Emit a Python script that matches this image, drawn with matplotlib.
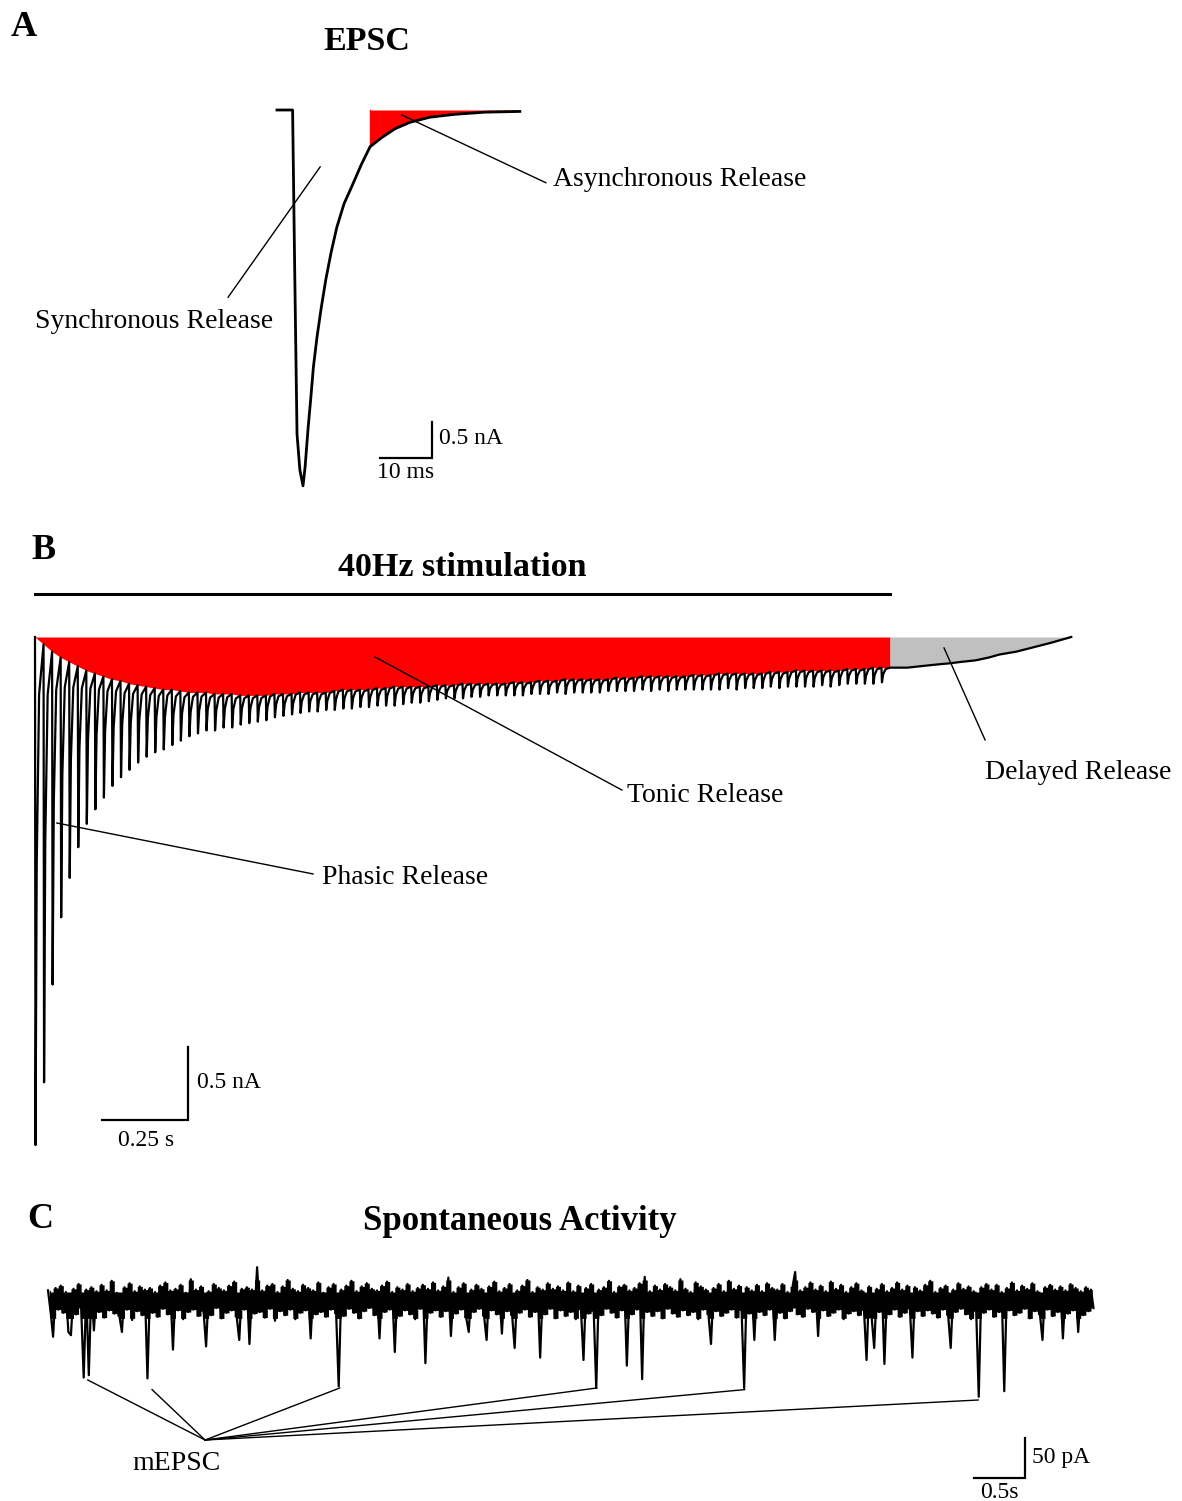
import matplotlib
matplotlib.use('Agg')
import matplotlib.pyplot as plt
import numpy as np

plt.rcParams['font.family'] = ['Liberation Serif', 'DejaVu Serif']

W, H = 1182, 1501

# ---------------- A: single EPSC (time ms, current nA)
epsc_t = [0, 3.0, 3.4, 3.85, 4.4, 5.0, 5.4, 6.0, 6.5, 7.0, 7.7, 8.5, 9.4, 10.4,
          11.5, 12.9, 14.4, 16.2, 17.9, 20.2, 22.7, 25.6, 29.4, 34.2, 40.0, 46.7]
epsc_nA = [0, 0, -2.2, -4.5, -5.0, -5.22, -4.96, -4.4, -4.0, -3.57, -3.15, -2.75,
           -2.35, -1.98, -1.63, -1.30, -1.06, -0.76, -0.51, -0.38, -0.26, -0.17,
           -0.10, -0.06, -0.03, -0.02]
async_from_ms = 17.9

# ---------------- B: 40 Hz train (nA), one peak per stimulus
stim_hz = 40
peak_nA = [-3.48, -3.05, -2.38, -1.92, -1.65, -1.44, -1.28, -1.18, -1.10, -1.02,
           -0.96, -0.91, -0.86, -0.82, -0.79, -0.77, -0.74, -0.71, -0.68, -0.66,
           -0.64, -0.64, -0.62, -0.62, -0.60, -0.59, -0.58, -0.57, -0.55, -0.54,
           -0.53, -0.52, -0.51, -0.51, -0.50, -0.50, -0.49, -0.49, -0.48, -0.48,
           -0.47, -0.47, -0.47, -0.46, -0.45, -0.45, -0.44, -0.43, -0.42, -0.42,
           -0.42, -0.41, -0.41, -0.40, -0.40, -0.40, -0.40, -0.40, -0.39, -0.39,
           -0.39, -0.38, -0.39, -0.38, -0.38, -0.38, -0.38, -0.37, -0.37, -0.37,
           -0.37, -0.36, -0.37, -0.36, -0.37, -0.36, -0.36, -0.36, -0.36, -0.36,
           -0.36, -0.35, -0.36, -0.35, -0.35, -0.35, -0.34, -0.35, -0.34, -0.34,
           -0.34, -0.34, -0.33, -0.34, -0.33, -0.32, -0.32, -0.32, -0.32, -0.31]
# level reached before each stimulus (tonic component) + level at train end
rec_nA = [0.00, -0.05, -0.10, -0.14, -0.17, -0.20, -0.23, -0.25, -0.27, -0.29,
          -0.30, -0.32, -0.33, -0.34, -0.35, -0.36, -0.36, -0.37, -0.38, -0.38,
          -0.38, -0.39, -0.39, -0.39, -0.40, -0.40, -0.40, -0.40, -0.39, -0.39,
          -0.39, -0.38, -0.38, -0.38, -0.38, -0.37, -0.36, -0.36, -0.36, -0.36,
          -0.35, -0.35, -0.34, -0.34, -0.34, -0.34, -0.34, -0.33, -0.33, -0.33,
          -0.32, -0.32, -0.32, -0.32, -0.32, -0.32, -0.31, -0.31, -0.31, -0.30,
          -0.30, -0.30, -0.29, -0.29, -0.29, -0.29, -0.29, -0.29, -0.28, -0.28,
          -0.28, -0.27, -0.27, -0.27, -0.27, -0.27, -0.27, -0.26, -0.26, -0.26,
          -0.25, -0.25, -0.25, -0.25, -0.25, -0.25, -0.24, -0.24, -0.24, -0.23,
          -0.23, -0.23, -0.23, -0.23, -0.23, -0.22, -0.22, -0.22, -0.21, -0.21,
          -0.21]
delay_t = [2.5, 2.55, 2.59, 2.63, 2.675, 2.71, 2.75, 2.79, 2.82, 2.87, 2.92, 2.97, 3.03]
delay_nA = [-0.21, -0.21, -0.20, -0.19, -0.18, -0.17, -0.16, -0.14, -0.12, -0.10,
            -0.07, -0.04, 0.0]

# ---------------- C: spontaneous trace (pA), sampled every 25 ms
spont_dt = 0.025
spont_pA = [
    12, -14, -46, 15, -12, 18, -16, 10, -40, -44, 14, -18, 20, -10, -97, 13, -94, 16, -38, 11,
    -15, 19, -22, 12, -13, 24, -17, 9, -20, -40, 16, -12, 21, -25, 11, -14, 17, -19, 13, -98,
    15, -16, 10, -21, 18, -11, 22, -18, 12, -62, 14, -13, 19, -24, 9, -15, 26, -12, 13, -20,
    17, -14, -58, 11, -19, 20, -10, 15, -23, 12, -16, 18, -13, 23, -21, -50, 14, -12, 16, -55,
    13, -17, 41, -15, 12, -22, 18, -11, 20, -26, 10, -14, 17, -19, 25, -12, 14, -24, 11, -16,
    19, -13, 15, -48, 12, -18, 22, -15, 9, -21, 16, -12, 20, -17, -108, 13, -20, 18, -11, 24,
    -16, 11, -23, 17, -14, 21, -10, 14, -19, 12, -48, 18, -15, 23, -12, 10, -65, 16, -20, 13,
    -13, 20, -18, 11, -24, 15, -11, 19, -79, 14, -16, 22, -13, 12, -21, 17, -14, 28, -45, 10,
    -17, 16, -12, 21, -22, -40, 13, -15, 19, -11, 14, -20, -50, 17, -13, 23, -18, 11, -42, 15,
    -14, 20, -19, -60, 12, -16, 18, -12, 25, -21, 10, -15, 16, -72, 13, -18, 21, -11, 14, -23,
    17, -13, 12, -20, 22, -15, 11, -24, 18, -12, -75, 15, -17, 20, -14, -110, 13, -19, 16, -11,
    24, -16, 10, -22, 17, -13, 19, -82, 12, -18, 15, -12, 21, -99, 29, -15, 11, -20, 18, -14,
    13, -23, 20, -11, 16, -17, 12, -21, 26, -13, 14, -19, 10, -15, 22, -24, 17, -12, 13, -18,
    -55, 15, -14, 20, -20, 11, -16, 24, -12, 14, -22, 18, -13, -110, 16, -17, 12, -50, 19, -15,
    11, -19, 21, -12, 15, -50, 13, -16, 20, -23, 10, -14, 17, 35, -18, 12, -21, 16, -11, 22,
    -15, 13, -45, 18, -13, 11, -20, 23, -16, 14, -12, 19, -24, 10, -17, 16, -14, 21, -19, 12,
    -13, -75, 17, -22, -60, 14, -15, 20, -80, 11, -18, 15, -12, 22, -21, 13, -16, 18, -11, -72,
    16, -14, 12, -20, 19, -13, 24, -17, 10, -22, 15, -12, 18, -19, -60, 13, -15, 21, -11, 14,
    -18, 17, -24, 11, -14, -121, 16, -16, 20, -12, 13, -21, 19, -15, 10, -114, 15, -13, 22, -19,
    12, -16, 18, -11, 14, -23, 21, -14, 11, -18, -50, 16, -12, 19, -20, 13, -15, 17, -48, 12,
    -17, 20, -13, 15, -40, 11, -19, 16, -14, 13, -10]
mepsc_t = [0.39, 1.02, 2.86, 5.38, 6.83, 9.12]
mepsc_pA = [-100, -112, -110, -110, -112, -125]


def panel(y0, y1, xlim, ylim):
    ax = fig.add_axes([0, 1 - y1 / H, 1, (y1 - y0) / H])
    ax.set_xlim(*xlim)
    ax.set_ylim(*ylim)
    ax.axis('off')
    return ax


def ftext(x, y, s, **kw):
    kw.setdefault('va', 'center')
    fig.text(x / W, 1 - y / H, s, color='black', **kw)


fig = plt.figure(figsize=(W / 100, H / 100), dpi=100)
fig.patch.set_facecolor('white')

# ---------------- panel A
axA = panel(0, 510, (-277 / 5.2, (W - 277) / 5.2), ((110 - 510) / 72, 110 / 72))
et = np.array(epsc_t)
ei = np.array(epsc_nA)
m = et >= async_from_ms
axA.fill_between(et[m], 0, ei[m], color='#FF0000', lw=0, zorder=1)
axA.plot([async_from_ms, async_from_ms], [0, ei[m][0]], color='#FF0000', lw=1, zorder=1)
axA.plot(et, ei, color='black', lw=2.0, zorder=3)
axA.plot([8.3, -9.4], [-0.79, -2.60], color='black', lw=1.0, zorder=4)
axA.plot([24.0, 51.7], [-0.07, -1.01], color='black', lw=1.0, zorder=4)
axA.plot([19.8, 29.8, 29.8], [-4.833, -4.833, -4.333], color='black', lw=1.6,
         solid_joinstyle='miter')

ftext(24, 27, 'A', fontsize=26, fontweight='bold', ha='center')
ftext(367, 41, 'EPSC', fontsize=24.5, fontweight='bold', ha='center')
ftext(154, 321, 'Synchronous Release', fontsize=20, ha='center')
ftext(553, 180, 'Asynchronous Release', fontsize=20, ha='left')
ftext(439, 438, '0.5 nA', fontsize=17, ha='left')
ftext(377, 473, '10 ms', fontsize=17, ha='left')

# ---------------- panel B
axB = panel(520, 1180, (-35 / 342, (W - 35) / 342), ((637 - 1180) / 146, (637 - 520) / 146))
n = len(peak_nA)
t_stim = np.arange(n) / stim_hz
tb, ib = [], []
for i in range(n):
    t0, p, r0, r1 = t_stim[i], peak_nA[i], rec_nA[i], rec_nA[i + 1]
    tb += [t0, t0 + 0.0015, t0 + 0.005, t0 + 0.012]
    ib += [r0, p, r0 + 0.45 * (p - r0), r1 + 0.1 * (p - r1)]
tb += delay_t
ib += delay_nA

t_env = np.append(t_stim, n / stim_hz)
axB.fill_between(t_env, 0, rec_nA, color='#FF0000', lw=0, zorder=1)
axB.fill_between(delay_t, 0, delay_nA, color='#C0C0C0', lw=0, zorder=1)
axB.plot(tb, ib, color='black', lw=1.6, zorder=3)
axB.plot([0, n / stim_hz], [0.295, 0.295], color='black', lw=2.2)
axB.plot([0.994, 1.716], [-0.137, -1.048], color='black', lw=1.0, zorder=4)
axB.plot([0.064, 0.813], [-1.274, -1.623], color='black', lw=1.0, zorder=4)
axB.plot([2.658, 2.778], [-0.075, -0.705], color='black', lw=1.0, zorder=4)
axB.plot([0.197, 0.447, 0.447], [-3.308, -3.308, -2.808], color='black', lw=1.6,
         solid_joinstyle='miter')

ftext(43, 551, 'B', fontsize=26, fontweight='bold', ha='center')
ftext(462, 568, '40Hz stimulation', fontsize=24.5, fontweight='bold', ha='center')
ftext(627, 795, 'Tonic Release', fontsize=20, ha='left')
ftext(322, 877, 'Phasic Release', fontsize=20, ha='left')
ftext(985, 772, 'Delayed Release', fontsize=20, ha='left')
ftext(197, 1082, '0.5 nA', fontsize=17, ha='left')
ftext(146, 1140, '0.25 s', fontsize=17, ha='center')

# ---------------- panel C
axC = panel(1190, H, (-48 / 102, (W - 48) / 102), ((1300 - H) / 0.8, (1300 - 1190) / 0.8))
s = np.array(spont_pA, dtype=float)
ts = np.arange(len(s)) * spont_dt
# dense core of the noise band: span of each pair of neighbouring samples, clipped
lo = np.clip(np.minimum(s[:-1], s[1:]), -23, -10)
hi = np.clip(np.maximum(s[:-1], s[1:]), 10, 25)
tm = (ts[:-1] + ts[1:]) / 2
axC.fill_between(tm, lo, hi, step='mid', color='black', lw=0, zorder=2)
axC.plot(ts, s, color='black', lw=1.6, zorder=3)
for t, a in zip(mepsc_t, mepsc_pA):
    axC.plot([1.54, t], [-175, a], color='black', lw=1.0, zorder=4)
axC.plot([9.08, 9.58, 9.58], [-222.5, -222.5, -172.5], color='black', lw=1.6,
         solid_joinstyle='miter')

ftext(40, 1220, 'C', fontsize=26, fontweight='bold', ha='center')
ftext(520, 1221, 'Spontaneous Activity', fontsize=25, fontweight='bold', ha='center')
ftext(176, 1463, 'mEPSC', fontsize=20, ha='center')
ftext(1032, 1458, '50 pA', fontsize=17, ha='left')
ftext(999, 1493, '0.5s', fontsize=17, ha='center')

fig.savefig('out.png', dpi=100, facecolor='white')
